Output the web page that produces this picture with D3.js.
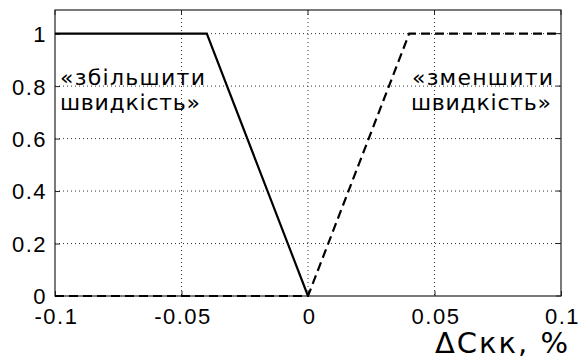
<!DOCTYPE html>
<html>
<head>
<meta charset="utf-8">
<script src="https://cdn.jsdelivr.net/npm/d3@7"></script>
<style>
  body { margin: 0; background: #fff; }
  svg { display: block; }
</style>
</head>
<body>
<div id="chart"></div>
<script>
// Data: membership functions
const increaseX = [-0.1, -0.04, 0];
const increaseY = [1, 1, 0];
const decreaseX = [-0.1, 0, 0.04, 0.1];
const decreaseY = [0, 0, 1, 1];
const xTicks = [-0.1, -0.05, 0, 0.05, 0.1];
const xTickLabels = ["-0.1", "-0.05", "0", "0.05", "0.1"];
const yTicks = [0, 0.2, 0.4, 0.6, 0.8, 1];
const yTickLabels = ["0", "0.2", "0.4", "0.6", "0.8", "1"];

const margin = { top: 10, right: 26, bottom: 67, left: 55 };
const width = 587 - margin.left - margin.right;
const height = 363 - margin.top - margin.bottom;

const svg = d3.select("#chart").append("svg")
    .attr("width", 587)
    .attr("height", 363)
  .append("g")
    .attr("transform", `translate(${margin.left},${margin.top})`);

const x = d3.scaleLinear().domain([-0.1, 0.1]).range([0, width]);
const y = d3.scaleLinear().domain([0, 1.09]).range([height, 0]);

// Grid lines (dotted)
svg.append("g")
    .selectAll("line")
    .data(xTicks.slice(1, -1))
    .enter().append("line")
    .attr("x1", d => x(d)).attr("x2", d => x(d))
    .attr("y1", 0).attr("y2", height)
    .attr("stroke", "#333")
    .attr("stroke-width", 1)
    .attr("stroke-dasharray", "1,3");

svg.append("g")
    .selectAll("line")
    .data(yTicks.slice(1))
    .enter().append("line")
    .attr("x1", 0).attr("x2", width)
    .attr("y1", d => y(d)).attr("y2", d => y(d))
    .attr("stroke", "#333")
    .attr("stroke-width", 1)
    .attr("stroke-dasharray", "1,3");

// Axes with inward ticks
const xAxis = svg.append("g")
    .attr("transform", `translate(0,${height})`)
    .call(d3.axisBottom(x).tickValues(xTicks)
        .tickFormat((d, i) => xTickLabels[i])
        .tickSize(-5).tickPadding(12));

const yAxis = svg.append("g")
    .call(d3.axisLeft(y).tickValues(yTicks)
        .tickFormat((d, i) => yTickLabels[i])
        .tickSize(-5).tickPadding(8));

[xAxis, yAxis].forEach(a => {
    a.select(".domain").remove();
    a.selectAll("text")
        .attr("font-family", "'Liberation Sans', Arial, sans-serif")
        .attr("font-size", 22)
        .attr("letter-spacing", 1.5)
        .attr("fill", "#000");
    a.selectAll(".tick line").attr("stroke", "#222");
});
xAxis.selectAll("text").attr("dy", "0.71em").attr("dx", 1);
yAxis.selectAll("text").attr("dy", "0.36em");

// Right and top ticks
svg.append("g")
    .selectAll("line")
    .data(yTicks)
    .enter().append("line")
    .attr("x1", width).attr("x2", width - 5)
    .attr("y1", d => y(d)).attr("y2", d => y(d))
    .attr("stroke", "#222");
svg.append("g")
    .selectAll("line")
    .data(xTicks)
    .enter().append("line")
    .attr("x1", d => x(d)).attr("x2", d => x(d))
    .attr("y1", 0).attr("y2", 5)
    .attr("stroke", "#222");

// Box
svg.append("rect")
    .attr("x", 0).attr("y", 0)
    .attr("width", width).attr("height", height)
    .attr("fill", "none")
    .attr("stroke", "#222")
    .attr("stroke-width", 1.2);

const line = d3.line()
    .x(d => x(d[0]))
    .y(d => y(d[1]));

// "increase speed" - solid
svg.append("path")
    .datum(d3.zip(increaseX, increaseY))
    .attr("d", line)
    .attr("fill", "none")
    .attr("stroke", "#000")
    .attr("stroke-width", 2.2);

// "decrease speed" - dashed
svg.append("path")
    .datum(d3.zip(decreaseX, decreaseY))
    .attr("d", line)
    .attr("fill", "none")
    .attr("stroke", "#000")
    .attr("stroke-width", 2.2)
    .attr("stroke-dasharray", "9,5");

// Annotations
const ann = svg.append("g")
    .attr("font-family", "'DejaVu Sans', sans-serif")
    .attr("font-size", 22)
    .attr("fill", "#000");

ann.append("text").attr("x", 5).attr("y", 75)
    .attr("textLength", 145).attr("lengthAdjust", "spacing").text("«збільшити");
ann.append("text").attr("x", 5).attr("y", 100)
    .attr("textLength", 140).attr("lengthAdjust", "spacing").text("швидкість»");
ann.append("text").attr("x", 357).attr("y", 75)
    .attr("textLength", 141).attr("lengthAdjust", "spacing").text("«зменшити");
ann.append("text").attr("x", 356).attr("y", 100)
    .attr("textLength", 140).attr("lengthAdjust", "spacing").text("швидкість»");

// X axis label
svg.append("text")
    .attr("x", 380)
    .attr("y", height + 57)
    .attr("font-family", "'DejaVu Sans', sans-serif")
    .attr("font-size", 29)
    .attr("textLength", 133)
    .attr("lengthAdjust", "spacing")
    .text("ΔСкк, %");
</script>
</body>
</html>
